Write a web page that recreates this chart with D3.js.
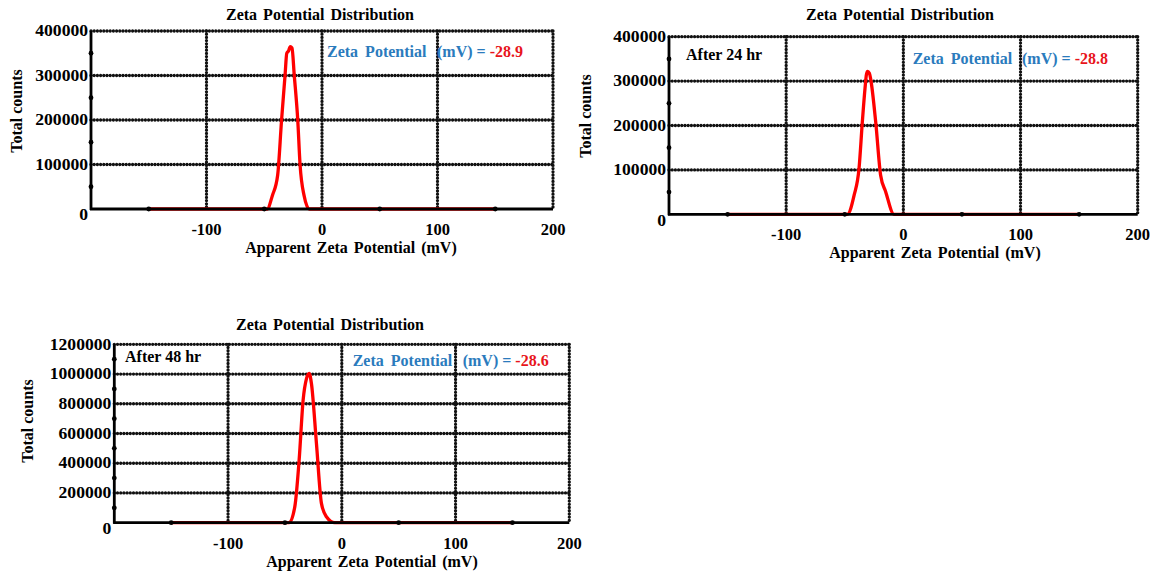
<!DOCTYPE html>
<html><head><meta charset="utf-8">
<script src="https://cdn.jsdelivr.net/npm/d3@7"></script>
<style>
body{margin:0;background:#fff;}
text{font-family:"Liberation Serif","Times New Roman",serif;font-weight:bold;}
</style></head><body>
<svg id="c" width="1165" height="573"></svg>
<script>
// ---- data ----
const xTicks = [-100, 0, 100, 200];
const xMinorTicks = [-150, -50, 50, 150];
const chartTitle = "Zeta Potential Distribution";
const xAxisTitle = "Apparent Zeta Potential (mV)";
const yAxisTitle = "Total counts";
const annotationLabel = "Zeta Potential";
const annotationUnit = "(mV) = ";
const panelLabels = ["", "After 24 hr", "After 48 hr"];
const zetaValues = ["-28.9", "-28.8", "-28.6"];

const yTicks1 = [0, 100000, 200000, 300000, 400000];
const yMinor1 = [50000, 150000, 250000, 350000];
const yTicks2 = [0, 100000, 200000, 300000, 400000];
const yMinor2 = [50000, 150000, 250000, 350000];
const yTicks3 = [0, 200000, 400000, 600000, 800000, 1000000, 1200000];
const yMinor3 = [100000, 300000, 500000, 700000, 900000, 1100000];

const curve1 = [[-150,0],[-47.5,0],[-43,30000],[-38.4,76000],[-35,200000],[-32,300000],[-30.5,350000],[-29,355000],[-27.5,365000],[-26,362000],[-24,300000],[-21,200000],[-19,100000],[-15.5,30000],[-11,0],[150,0]];
const curve2 = [[-150,0],[-47.8,0],[-42,43000],[-37.8,104000],[-35,208000],[-32.7,284000],[-31.5,315000],[-30.5,322000],[-29,318000],[-27.9,305000],[-23.6,208000],[-19.4,88000],[-15.1,51000],[-8,0],[150,0]];
const curve3 = [[-150,0],[-46.3,0],[-41.3,108000],[-37.5,422000],[-34,825000],[-31,971000],[-28.7,1005000],[-26.7,937000],[-22.3,534000],[-17.9,130000],[-13.5,40000],[-6.2,0],[150,0]];

// ---- layout ----
const panels = [
  {left:91, right:553, top:31, bottom:209, yTicks:yTicks1, yMinor:yMinor1, curve:curve1, label:panelLabels[0], value:zetaValues[0],
   titleX:320, titleY:20, yLabX:16, yLabY:111, xLabX:351, annX:327, unitX:437, annY:57, labX:0, labY:0},
  {left:669, right:1137.7, top:36.7, bottom:214.3, yTicks:yTicks2, yMinor:yMinor2, curve:curve2, label:panelLabels[1], value:zetaValues[1],
   titleX:900, titleY:20, yLabX:585, yLabY:116, xLabX:935, annX:912.7, unitX:1022, annY:64, labX:686, labY:60},
  {left:114.3, right:569.3, top:344.3, bottom:522.7, yTicks:yTicks3, yMinor:yMinor3, curve:curve3, label:panelLabels[2], value:zetaValues[2],
   titleX:330, titleY:330, yLabX:27, yLabY:421, xLabX:372, annX:352.7, unitX:462.7, annY:366, labX:125, labY:362}
];

const svg = d3.select("#c");
const blue = "#2b7bbd", red = "#e8151b";

panels.forEach(p => {
  const x = d3.scaleLinear().domain([-200, 200]).range([p.left, p.right]);
  const yMax = d3.max(p.yTicks);
  const y = d3.scaleLinear().domain([0, yMax]).range([p.bottom, p.top]);
  const g = svg.append("g");

  const dotted = sel => sel.attr("stroke", "#111").attr("stroke-width", 3.3)
    .attr("stroke-dasharray", "0 3.2").attr("stroke-linecap", "round");

  // horizontal grid
  g.selectAll(".hg").data(p.yTicks.filter(d => d > 0)).enter().append("line")
    .attr("x1", p.left).attr("x2", p.right).attr("y1", d => y(d)).attr("y2", d => y(d)).call(dotted);
  // vertical grid
  g.selectAll(".vg").data(xTicks).enter().append("line")
    .attr("x1", d => x(d)).attr("x2", d => x(d)).attr("y1", p.top).attr("y2", p.bottom).call(dotted);

  // curve
  const line = d3.line().x(d => x(d[0])).y(d => y(d[1])).curve(d3.curveMonotoneX);
  g.append("path").datum(p.curve).attr("d", line).attr("fill", "none")
    .attr("stroke", "#ff0000").attr("stroke-width", 3.3).attr("stroke-linejoin", "round");

  // solid axes
  g.append("line").attr("x1", p.left).attr("x2", p.left).attr("y1", p.top).attr("y2", p.bottom + 1)
    .attr("stroke", "#000").attr("stroke-width", 2.8);
  g.append("line").attr("x1", p.left - 1).attr("x2", p.right).attr("y1", p.bottom).attr("y2", p.bottom)
    .attr("stroke", "#000").attr("stroke-width", 2.8);

  // minor dots
  g.selectAll(".ym").data(p.yMinor).enter().append("circle")
    .attr("cx", p.left).attr("cy", d => y(d)).attr("r", 2.4).attr("fill", "#000");
  g.selectAll(".xm").data(xMinorTicks).enter().append("circle")
    .attr("cx", d => x(d)).attr("cy", p.bottom).attr("r", 2.4).attr("fill", "#000");

  // y tick labels (slightly widened like the reference)
  g.selectAll(".yl").data(p.yTicks).enter().append("text")
    .attr("transform", d => `translate(${p.left - 3},${y(d) + (d === 0 ? 6 : 0)}) scale(1.1,1)`)
    .attr("text-anchor", "end").attr("dominant-baseline", "central")
    .attr("font-size", 16).text(d => d);
  // x tick labels
  g.selectAll(".xl").data(xTicks).enter().append("text")
    .attr("x", d => x(d)).attr("y", p.bottom + 26)
    .attr("text-anchor", "middle").attr("font-size", 16.5).text(d => d);

  // titles
  g.append("text").attr("x", p.titleX).attr("y", p.titleY).attr("text-anchor", "middle")
    .attr("font-size", 16).attr("word-spacing", 2).text(chartTitle);
  g.append("text").attr("x", p.xLabX).attr("y", p.bottom + 44).attr("text-anchor", "middle")
    .attr("font-size", 16).attr("word-spacing", 2).text(xAxisTitle);
  g.append("text").attr("transform", `translate(${p.yLabX},${p.yLabY}) rotate(-90)`)
    .attr("text-anchor", "middle").attr("dominant-baseline", "central")
    .attr("font-size", 16).text(yAxisTitle);

  if (p.label) {
    g.append("text").attr("x", p.labX).attr("y", p.labY).attr("font-size", 16).text(p.label);
  }

  // annotation
  const t = g.append("text").attr("y", p.annY).attr("font-size", 16);
  t.append("tspan").attr("x", p.annX).attr("fill", blue).attr("word-spacing", 3).text(annotationLabel);
  t.append("tspan").attr("x", p.unitX).attr("fill", blue).text(annotationUnit);
  t.append("tspan").attr("fill", red).text(p.value);
});
</script>
</body></html>
